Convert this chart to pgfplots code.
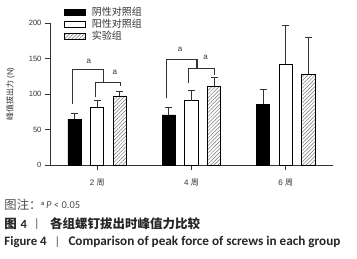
\documentclass[border=0pt]{standalone}
\usepackage{fontspec}
\setmainfont{Liberation Sans}
\newfontfamily\cjk{Noto Sans CJK SC}
\newfontfamily\carlito{Carlito}
\usepackage{graphicx}
\usepackage{pgfplots}
\pgfplotsset{compat=1.18}
\usetikzlibrary{patterns.meta}
\definecolor{ax}{HTML}{333333}
\pgfplotsset{
  mybar/.style={ybar, bar width=13.3pt, draw=black, line width=0.8pt},
  myerr/.style={forget plot, draw=none, no markers,
    error bars/y dir=plus, error bars/y explicit,
    error bars/error bar style={draw=ax, line width=0.9pt},
    error bars/error mark options={rotate=90, mark size=3.5pt, line width=0.9pt, draw=ax}},
  bracket/.style={ax, line width=0.9pt, no marks, forget plot}
}
\begin{document}
\begin{tikzpicture}
\useasboundingbox (0,0) rectangle (357pt,258pt);
\begin{axis}[
  at={(50pt,93pt)}, anchor=south west,
  scale only axis, width=283pt, height=141.7pt,
  xmin=-0.5, xmax=2.5, ymin=0, ymax=200,
  axis x line*=bottom, axis y line*=left,
  axis line style={ax, line width=0.9pt, -},
  xtick={0,1,2},
  xticklabels={{2 {\cjk 周}},{4 {\cjk 周}},{6 {\cjk 周}}},
  ytick={0,50,100,150,200},
  tick align=outside, tick pos=left,
  major tick length=5pt,
  every tick/.style={ax, line width=0.9pt},
  tick label style={font=\fontsize{7.6}{9}\selectfont, text=black!80},
  xticklabel style={yshift=-6pt, font=\fontsize{8}{9}\selectfont},
  /pgf/number format/assume math mode=true,
  ylabel={{\cjk 峰值拔出力} (N)},
  ylabel style={at={(axis description cs:-0.14,0.5)}, anchor=center, rotate=0,
    font=\fontsize{8}{9}\selectfont, text=black!80},
  clip=false,
  legend style={at={(0.047,1.119)}, anchor=north west, draw=none, fill=none,
    inner sep=0pt, row sep=1.2pt, font=\fontsize{10}{10}\selectfont\cjk,
    text=black!80, nodes={inner sep=0.5pt},
    /tikz/every odd column/.append style={column sep=6pt}},
  legend cell align=left,
  legend image code/.code={\draw[#1, line width=0.8pt] (0pt,-3pt) rectangle (21pt,3pt);},
]
\addplot[mybar, bar shift=-22.6pt, fill=black] coordinates {
  (0,64.5) (1,70.6) (2,85.6)
};
\addlegendentry{阴性对照组}
\addplot[mybar, bar shift=0pt, fill=white] coordinates {
  (0,81.4) (1,90.8) (2,142.0)
};
\addlegendentry{阳性对照组}
\addplot[mybar, bar shift=22.6pt, fill=white,
  pattern={Lines[angle=45,distance=2.6pt,line width=0.5pt]}, pattern color=black!55] coordinates {
  (0,97.4) (1,111.0) (2,128.4)
};
\addlegendentry{实验组}
% error bars (upper only), at the bar centres
\addplot[myerr] coordinates {
  (-0.2396,64.5) +- (0,8.5)
  (0.7604,70.6) +- (0,10.3)
  (1.7604,85.6) +- (0,20.7)
};
\addplot[myerr] coordinates {
  (0,81.4) +- (0,9.4)
  (1,90.8) +- (0,15.1)
  (2,142.0) +- (0,54.6)
};
\addplot[myerr] coordinates {
  (0.2396,97.4) +- (0,6.6)
  (1.2396,111.0) +- (0,12.8)
  (2.2396,128.4) +- (0,51.8)
};
% significance brackets
\addplot[bracket] coordinates {(-0.258,85.7) (-0.258,135.5) (0.070,135.5) (0.070,116.7)};
\addplot[bracket] coordinates {(-0.018,96.4) (-0.018,116.7) (0.248,116.7) (0.248,111.5)};
\addplot[bracket] coordinates {(0.734,94.1) (0.734,149.6) (1.06,149.6) (1.06,136.5)};
\addplot[bracket, line width=2pt] coordinates {(1.06,149.6) (1.06,136.5)};
\addplot[bracket] coordinates {(0.964,115.3) (0.964,136.5) (1.247,136.5) (1.247,127)};
\node[font=\fontsize{8}{9}\selectfont, text=black!80] at (axis cs:-0.089,146.8) {a};
\node[font=\fontsize{8}{9}\selectfont, text=black!80] at (axis cs:0.187,130.8) {a};
\node[font=\fontsize{8}{9}\selectfont, text=black!80] at (axis cs:0.88,163.7) {a};
\node[font=\fontsize{8}{9}\selectfont, text=black!80] at (axis cs:1.149,152) {a};
\end{axis}
% captions
\node[anchor=west, inner sep=0, text=black!70, font=\fontsize{12.3}{13}\selectfont\cjk] at (4.3pt,53pt) {图注：};
\node[anchor=west, inner sep=0, text=black!70, font=\fontsize{10.5}{12}\selectfont\carlito] at (41pt,53pt)
  {\raisebox{0.6ex}{\fontsize{6.5}{7}\selectfont\bfseries a}\,\textit{P} {<} 0.05};
\node[anchor=west, inner sep=0, text=black!85, font=\fontsize{12.5}{13}\selectfont\cjk\bfseries] at (4.3pt,34pt) {图};
\node[anchor=west, inner sep=0, text=black!85, font=\fontsize{12.5}{13}\selectfont\carlito\bfseries] at (20.5pt,34pt) {4};
\node[inner sep=0, text=black!70, font=\fontsize{12}{13}\selectfont\carlito] at (37pt,34pt) {|};
\node[anchor=west, inner sep=0, text=black!85, font=\fontsize{12.5}{13}\selectfont\cjk\bfseries] at (50pt,34pt) {各组螺钉拔出时峰值力比较};
\node[anchor=west, inner sep=0, text=black!85, font=\fontsize{12.8}{14}\selectfont\carlito\bfseries] at (4.3pt,15.7pt) {Figure 4};
\node[inner sep=0, text=black!70, font=\fontsize{12}{13}\selectfont\carlito] at (57.3pt,15.7pt) {|};
\node[anchor=west, inner sep=0, text=black!85, font=\fontsize{12.8}{14}\selectfont\carlito\bfseries] at (68.3pt,15.7pt)
  {\resizebox{272pt}{!}{Comparison of peak force of screws in each group}};
\end{tikzpicture}
\end{document}
